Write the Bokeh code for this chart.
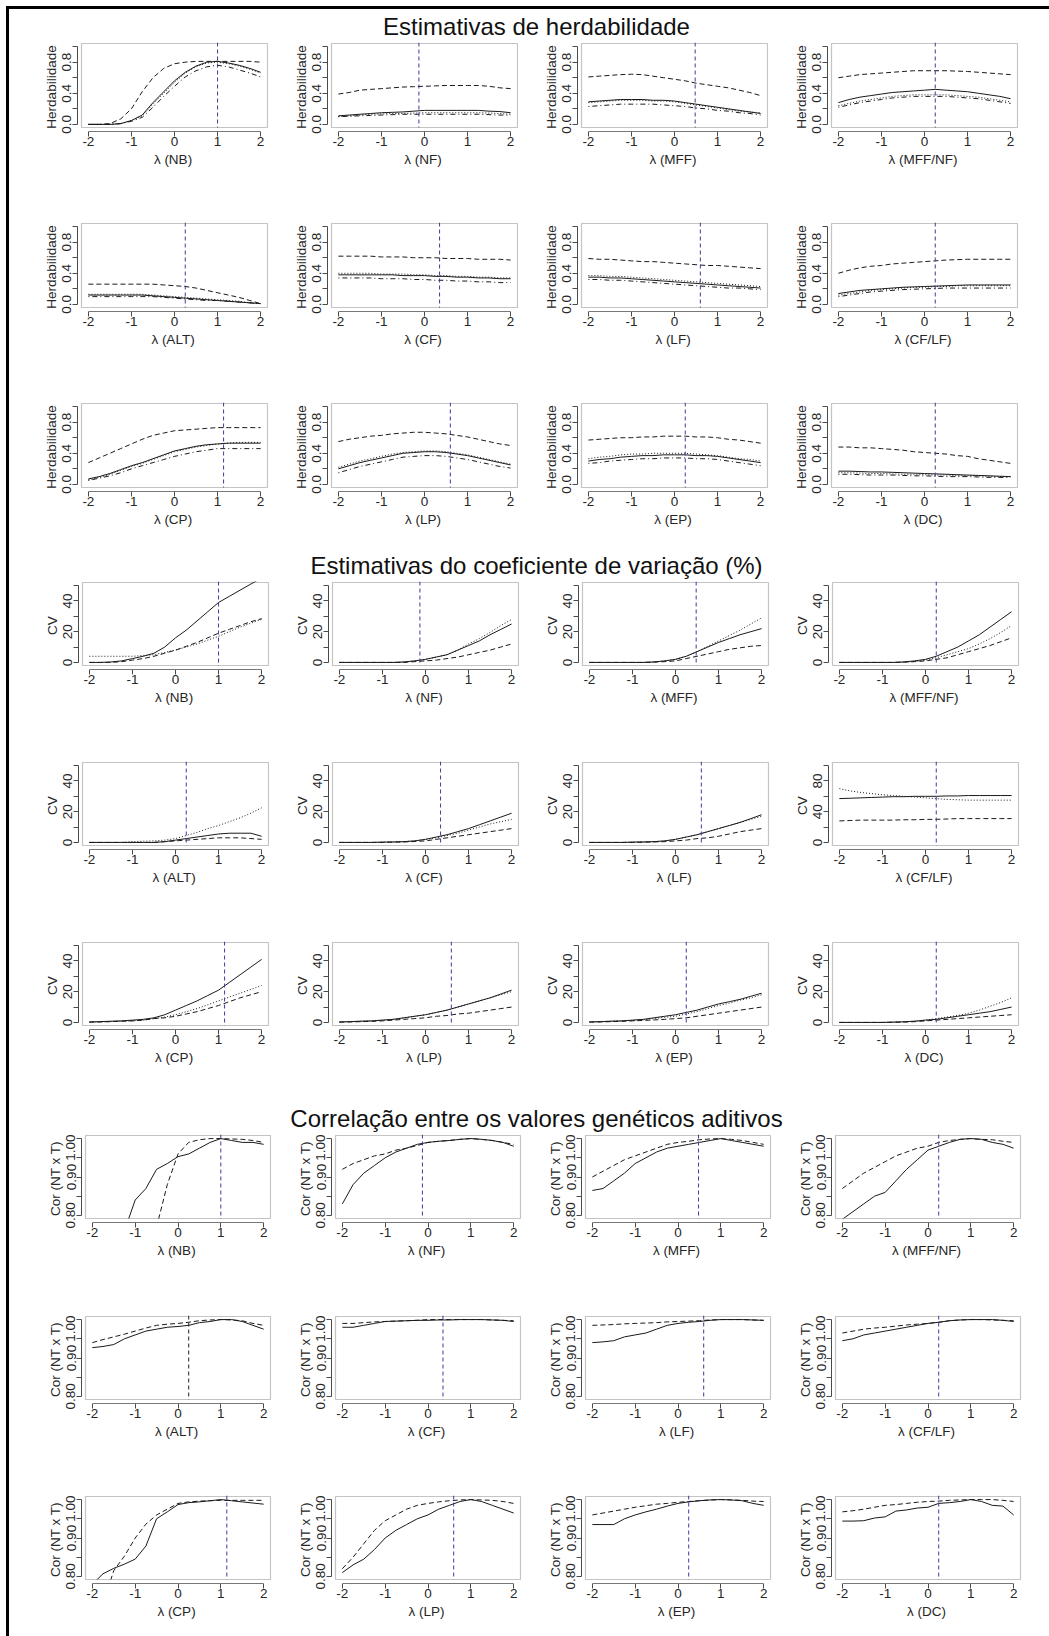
import numpy as np
from bokeh.plotting import figure
from bokeh.models import Range1d, FixedTicker, BoxAnnotation, Span, Spacer, Div
from bokeh.layouts import row, column
from bokeh.embed import file_html
from bokeh.resources import INLINE
from bokeh.core.properties import value

nan = float("nan")

# ---------------- data ----------------
LAM = [-2.0, -1.75, -1.5, -1.25, -1.0, -0.75, -0.5, -0.25, 0.0, 0.25, 0.5, 0.75, 1.0, 1.25, 1.5, 1.75, 2.0]
X_TICKS = [-2, -1, 0, 1, 2]
X_LABELS = ["-2", "-1", "0", "1", "2"]
TRAITS = ["NB", "NF", "MFF", "MFF/NF", "ALT", "CF", "LF", "CF/LF", "CP", "LP", "EP", "DC"]
LAMBDA_OPT = {"NB": 1.0, "NF": -0.13, "MFF": 0.48, "MFF/NF": 0.25, "ALT": 0.25, "CF": 0.35,
              "LF": 0.6, "CF/LF": 0.25, "CP": 1.14, "LP": 0.6, "EP": 0.25, "DC": 0.25}

SECTION_TITLES = ["Estimativas de herdabilidade",
                  "Estimativas do coeficiente de variação (%)",
                  "Correlação entre os valores genéticos aditivos"]

# Heritability: solid, dashed, dotted, dot-dash
HER_SOLID = {
    "NB": [0, 0, 0, 0.01, 0.05, 0.12, 0.28, 0.42, 0.56, 0.67, 0.75, 0.80, 0.81, 0.79, 0.76, 0.72, 0.67],
    "NF": [0.11, 0.12, 0.13, 0.14, 0.15, 0.155, 0.16, 0.17, 0.18, 0.18, 0.18, 0.18, 0.18, 0.18, 0.17, 0.165, 0.15],
    "MFF": [0.29, 0.30, 0.31, 0.32, 0.32, 0.32, 0.31, 0.31, 0.30, 0.28, 0.26, 0.24, 0.22, 0.20, 0.18, 0.16, 0.14],
    "MFF/NF": [0.28, 0.32, 0.35, 0.37, 0.39, 0.41, 0.42, 0.43, 0.44, 0.45, 0.44, 0.43, 0.42, 0.40, 0.38, 0.36, 0.33],
    "ALT": [0.12, 0.12, 0.12, 0.12, 0.12, 0.12, 0.11, 0.10, 0.09, 0.08, 0.07, 0.06, 0.05, 0.04, 0.03, 0.02, 0.01],
    "CF": [0.38, 0.38, 0.38, 0.38, 0.38, 0.38, 0.37, 0.37, 0.37, 0.36, 0.36, 0.35, 0.35, 0.34, 0.34, 0.33, 0.33],
    "LF": [0.35, 0.35, 0.34, 0.34, 0.33, 0.32, 0.31, 0.30, 0.29, 0.28, 0.27, 0.26, 0.25, 0.24, 0.23, 0.22, 0.21],
    "CF/LF": [0.14, 0.16, 0.18, 0.19, 0.20, 0.21, 0.22, 0.225, 0.23, 0.235, 0.24, 0.245, 0.25, 0.25, 0.25, 0.25, 0.25],
    "CP": [0.07, 0.10, 0.14, 0.19, 0.24, 0.28, 0.33, 0.38, 0.43, 0.46, 0.49, 0.51, 0.52, 0.53, 0.53, 0.53, 0.53],
    "LP": [0.20, 0.24, 0.28, 0.31, 0.34, 0.37, 0.40, 0.41, 0.42, 0.42, 0.41, 0.39, 0.37, 0.34, 0.31, 0.28, 0.25],
    "EP": [0.30, 0.32, 0.33, 0.35, 0.36, 0.37, 0.37, 0.38, 0.38, 0.38, 0.37, 0.37, 0.36, 0.34, 0.32, 0.30, 0.28],
    "DC": [0.17, 0.17, 0.165, 0.16, 0.16, 0.155, 0.15, 0.145, 0.14, 0.135, 0.13, 0.125, 0.12, 0.115, 0.11, 0.105, 0.10],
}
HER_DASHED = {
    "NB": [0, 0, 0.01, 0.07, 0.20, 0.42, 0.60, 0.72, 0.78, 0.80, 0.81, 0.81, 0.81, 0.81, 0.81, 0.81, 0.80],
    "NF": [0.39, 0.41, 0.44, 0.45, 0.46, 0.47, 0.48, 0.485, 0.49, 0.495, 0.50, 0.50, 0.50, 0.50, 0.49, 0.47, 0.46],
    "MFF": [0.61, 0.62, 0.63, 0.64, 0.645, 0.64, 0.62, 0.60, 0.58, 0.56, 0.53, 0.51, 0.49, 0.47, 0.44, 0.41, 0.37],
    "MFF/NF": [0.60, 0.62, 0.64, 0.65, 0.66, 0.67, 0.68, 0.69, 0.69, 0.69, 0.69, 0.685, 0.68, 0.67, 0.66, 0.65, 0.64],
    "ALT": [0.26, 0.26, 0.26, 0.26, 0.26, 0.26, 0.26, 0.25, 0.24, 0.23, 0.21, 0.18, 0.15, 0.12, 0.09, 0.05, 0.01],
    "CF": [0.62, 0.62, 0.62, 0.62, 0.61, 0.61, 0.61, 0.60, 0.60, 0.60, 0.59, 0.59, 0.59, 0.58, 0.58, 0.58, 0.57],
    "LF": [0.59, 0.58, 0.58, 0.57, 0.56, 0.55, 0.55, 0.54, 0.53, 0.52, 0.51, 0.50, 0.50, 0.49, 0.48, 0.47, 0.46],
    "CF/LF": [0.40, 0.44, 0.47, 0.49, 0.50, 0.52, 0.53, 0.54, 0.55, 0.56, 0.57, 0.575, 0.58, 0.58, 0.58, 0.58, 0.58],
    "CP": [0.28, 0.34, 0.40, 0.46, 0.52, 0.58, 0.63, 0.66, 0.69, 0.70, 0.71, 0.72, 0.73, 0.73, 0.73, 0.73, 0.73],
    "LP": [0.55, 0.58, 0.60, 0.62, 0.63, 0.65, 0.66, 0.67, 0.67, 0.66, 0.65, 0.63, 0.61, 0.58, 0.55, 0.52, 0.50],
    "EP": [0.57, 0.58, 0.59, 0.60, 0.60, 0.61, 0.61, 0.62, 0.62, 0.62, 0.61, 0.61, 0.60, 0.58, 0.57, 0.55, 0.53],
    "DC": [0.48, 0.48, 0.47, 0.47, 0.46, 0.45, 0.44, 0.42, 0.41, 0.40, 0.39, 0.37, 0.36, 0.33, 0.31, 0.29, 0.27],
}
HER_DOTTED = {
    "NB": [0, 0, 0, 0.01, 0.05, 0.11, 0.26, 0.40, 0.54, 0.66, 0.74, 0.79, 0.80, 0.78, 0.75, 0.71, 0.66],
    "NF": [0.10, 0.11, 0.12, 0.13, 0.135, 0.14, 0.14, 0.145, 0.15, 0.15, 0.15, 0.15, 0.15, 0.15, 0.145, 0.14, 0.13],
    "MFF": [0.28, 0.29, 0.30, 0.31, 0.31, 0.31, 0.30, 0.30, 0.29, 0.27, 0.25, 0.23, 0.21, 0.19, 0.17, 0.16, 0.15],
    "MFF/NF": [0.24, 0.27, 0.30, 0.32, 0.34, 0.36, 0.37, 0.38, 0.38, 0.38, 0.38, 0.37, 0.36, 0.35, 0.33, 0.31, 0.29],
    "ALT": [0.13, 0.13, 0.13, 0.13, 0.13, 0.13, 0.12, 0.11, 0.10, 0.09, 0.08, 0.07, 0.06, 0.05, 0.04, 0.02, 0.01],
    "CF": [0.40, 0.40, 0.40, 0.40, 0.39, 0.39, 0.39, 0.38, 0.38, 0.37, 0.37, 0.36, 0.36, 0.35, 0.35, 0.34, 0.34],
    "LF": [0.37, 0.37, 0.36, 0.36, 0.35, 0.34, 0.33, 0.32, 0.31, 0.30, 0.29, 0.28, 0.27, 0.26, 0.25, 0.24, 0.23],
    "CF/LF": [0.12, 0.14, 0.16, 0.18, 0.19, 0.20, 0.21, 0.22, 0.22, 0.23, 0.23, 0.24, 0.24, 0.24, 0.24, 0.24, 0.24],
    "CP": [0.06, 0.09, 0.13, 0.18, 0.23, 0.27, 0.32, 0.37, 0.42, 0.45, 0.48, 0.50, 0.52, 0.53, 0.54, 0.54, 0.54],
    "LP": [0.22, 0.26, 0.30, 0.33, 0.36, 0.39, 0.41, 0.42, 0.43, 0.43, 0.42, 0.40, 0.38, 0.35, 0.32, 0.29, 0.26],
    "EP": [0.33, 0.35, 0.36, 0.38, 0.39, 0.39, 0.40, 0.40, 0.40, 0.40, 0.39, 0.38, 0.37, 0.35, 0.33, 0.32, 0.30],
    "DC": [0.15, 0.15, 0.145, 0.14, 0.14, 0.135, 0.13, 0.13, 0.125, 0.12, 0.12, 0.115, 0.11, 0.11, 0.105, 0.10, 0.10],
}
HER_DOTDASH = {
    "NB": [0, 0, 0, 0.01, 0.04, 0.09, 0.22, 0.36, 0.49, 0.61, 0.69, 0.74, 0.76, 0.74, 0.70, 0.66, 0.61],
    "NF": [0.10, 0.105, 0.11, 0.115, 0.12, 0.125, 0.13, 0.13, 0.13, 0.13, 0.13, 0.13, 0.13, 0.13, 0.125, 0.12, 0.12],
    "MFF": [0.23, 0.24, 0.25, 0.26, 0.26, 0.26, 0.26, 0.25, 0.24, 0.23, 0.21, 0.20, 0.18, 0.17, 0.15, 0.14, 0.12],
    "MFF/NF": [0.22, 0.25, 0.28, 0.30, 0.32, 0.34, 0.35, 0.36, 0.36, 0.36, 0.36, 0.35, 0.34, 0.33, 0.31, 0.29, 0.27],
    "ALT": [0.10, 0.10, 0.10, 0.10, 0.10, 0.10, 0.10, 0.09, 0.08, 0.07, 0.06, 0.05, 0.05, 0.04, 0.03, 0.02, 0.01],
    "CF": [0.34, 0.34, 0.34, 0.34, 0.33, 0.33, 0.33, 0.32, 0.32, 0.31, 0.31, 0.30, 0.30, 0.29, 0.29, 0.28, 0.28],
    "LF": [0.32, 0.32, 0.31, 0.31, 0.30, 0.29, 0.28, 0.27, 0.26, 0.25, 0.24, 0.23, 0.22, 0.21, 0.21, 0.20, 0.19],
    "CF/LF": [0.10, 0.12, 0.14, 0.16, 0.17, 0.18, 0.19, 0.195, 0.20, 0.205, 0.21, 0.21, 0.21, 0.21, 0.21, 0.21, 0.21],
    "CP": [0.05, 0.08, 0.11, 0.15, 0.20, 0.24, 0.28, 0.32, 0.36, 0.39, 0.42, 0.44, 0.46, 0.46, 0.46, 0.46, 0.46],
    "LP": [0.15, 0.19, 0.23, 0.26, 0.29, 0.32, 0.35, 0.36, 0.37, 0.37, 0.36, 0.34, 0.32, 0.29, 0.26, 0.23, 0.21],
    "EP": [0.27, 0.28, 0.30, 0.31, 0.32, 0.33, 0.33, 0.34, 0.34, 0.34, 0.33, 0.33, 0.32, 0.30, 0.28, 0.26, 0.24],
    "DC": [0.13, 0.13, 0.125, 0.12, 0.12, 0.12, 0.115, 0.11, 0.11, 0.105, 0.10, 0.10, 0.10, 0.095, 0.09, 0.09, 0.09],
}

# Coefficient of variation (%): solid, dashed, dotted
CV_SOLID = {
    "NB": [0, 0, 0.3, 1, 2.5, 4, 6, 10, 16, 21, 27, 33, 39, 43, 47, 51, 55],
    "NF": [0, 0, 0, 0, 0, 0, 0.3, 1, 2, 3.5, 5, 8, 11, 14, 18, 21.5, 25],
    "MFF": [0, 0, 0, 0, 0, 0, 0.3, 1, 2, 4, 7, 10, 13, 15.5, 18, 20, 22],
    "MFF/NF": [0, 0, 0, 0, 0, 0, 0.3, 1, 2, 4, 7, 10, 14, 18, 23, 28, 33],
    "ALT": [0, 0, 0, 0, 0, 0, 0, 0.5, 1.5, 2.5, 3.5, 4.5, 5.5, 6, 6, 6, 4],
    "CF": [0, 0, 0, 0, 0.2, 0.3, 0.5, 1, 2, 3.5, 5, 7, 9, 11.5, 14, 16.5, 19],
    "LF": [0, 0, 0, 0, 0.2, 0.3, 0.5, 1, 2, 3.5, 5, 7, 9, 11, 13, 15.5, 18],
    "CF/LF": [57, 57.5, 58, 58.5, 59, 59.5, 59.5, 60, 60, 60, 60.5, 60.5, 61, 61, 61, 61, 61],
    "CP": [0.3, 0.5, 0.8, 1, 1.5, 2, 3, 5, 8, 11, 14, 17.5, 21, 26, 31, 36, 41],
    "LP": [0.3, 0.5, 0.8, 1, 1.5, 2, 3, 4, 5, 6.5, 8, 10, 12, 14, 16, 18.5, 21],
    "EP": [0.3, 0.5, 0.8, 1, 1.5, 2, 3, 4, 5, 6.5, 8, 10, 12, 13.5, 15, 17, 19],
    "DC": [0, 0, 0, 0, 0, 0.2, 0.4, 0.8, 1.5, 2, 3, 4, 5, 6, 7, 8.5, 10],
}
CV_DASHED = {
    "NB": [0, 0, 0, 0.5, 1.5, 2.5, 4, 6, 8, 10.5, 13, 16, 19, 21.5, 24, 26.5, 28.5],
    "NF": [0, 0, 0, 0, 0, 0, 0, 0.5, 1, 1.5, 2.5, 3.5, 5, 6.5, 8, 10, 12],
    "MFF": [0, 0, 0, 0, 0, 0, 0.2, 0.5, 1, 2.5, 4, 5.5, 7, 8.5, 9.5, 10.5, 11],
    "MFF/NF": [0, 0, 0, 0, 0, 0, 0.2, 0.5, 1, 2, 3, 5, 7, 9, 11, 13.5, 16],
    "ALT": [0, 0, 0, 0, 0, 0, 0, 0.5, 1, 1.5, 2, 2.5, 3, 3, 3, 2.5, 2],
    "CF": [0, 0, 0, 0, 0, 0.2, 0.3, 0.6, 1, 2, 3, 4, 5, 6, 7, 8, 9],
    "LF": [0, 0, 0, 0, 0, 0.2, 0.3, 0.5, 1, 1.5, 2.5, 3, 4, 5.5, 7, 8, 9],
    "CF/LF": [28, 28.5, 29, 29, 29, 29, 29.5, 29.5, 30, 30, 30.5, 31, 31, 31, 31, 31, 31],
    "CP": [0.2, 0.3, 0.5, 0.8, 1, 1.5, 2.5, 3, 4, 5.5, 7, 9, 11, 13.5, 16, 18, 20],
    "LP": [0.2, 0.3, 0.5, 0.7, 1, 1.5, 2, 2.5, 3, 4, 4.5, 5.5, 6, 7, 8, 9, 10],
    "EP": [0.2, 0.3, 0.5, 0.7, 1, 1.3, 1.6, 2, 2.5, 3, 4, 5, 6, 7, 8, 9, 10],
    "DC": [0, 0, 0, 0, 0, 0.1, 0.2, 0.5, 1, 1.5, 2, 2.5, 3, 3.5, 4, 4.5, 5],
}
CV_DOTTED = {
    "NB": [4, 4, 4, 4, 4, 4.5, 5, 6.5, 8, 10, 12, 14.5, 17, 20, 23, 25.5, 28],
    "NF": [0, 0, 0, 0, 0, 0, 0.3, 1, 2, 3.5, 5, 8, 12, 15.5, 19.5, 24, 28],
    "MFF": [0, 0, 0, 0, 0, 0, 0.3, 1, 2, 4, 7, 10.5, 14, 17.5, 21, 25, 29],
    "MFF/NF": [0, 0, 0, 0, 0, 0, 0.2, 0.6, 1.5, 3, 5, 7, 9, 12, 15.5, 19.5, 24],
    "ALT": [0, 0, 0, 0, 0.5, 0.8, 1, 1.5, 2.5, 4.5, 6.5, 9, 11, 13.5, 16, 19, 22.5],
    "CF": [0, 0, 0, 0, 0.2, 0.3, 0.5, 1, 2, 3, 4.5, 6, 8, 10, 12, 13.5, 15],
    "LF": [0, 0, 0, 0, 0.2, 0.3, 0.5, 1, 2, 3.5, 5, 7, 9, 11, 13, 15, 17],
    "CF/LF": [70, 67, 65, 63.5, 62, 61, 60, 59, 58, 57, 56, 55.5, 55, 55, 55, 55, 55],
    "CP": [0.2, 0.4, 0.6, 0.8, 1, 1.5, 2.5, 3.5, 5, 7, 9, 11.5, 14, 16.5, 19, 21.5, 24],
    "LP": [0.3, 0.5, 0.8, 1, 1.5, 2, 3, 4, 5, 6.5, 8, 10, 12, 14, 16, 18, 20],
    "EP": [0.3, 0.5, 0.8, 1, 1.3, 1.7, 2.5, 3.3, 4, 5.5, 7, 9, 11, 12.5, 14.5, 16, 18],
    "DC": [0, 0, 0, 0, 0, 0.2, 0.4, 0.8, 1.5, 2.5, 3.5, 4.5, 6, 8, 10.5, 13, 16],
}

# Correlation of additive genetic values (NT x T): solid, dashed
COR_SOLID = {
    "NB": [nan, nan, nan, 0.76, 0.84, 0.87, 0.92, 0.935, 0.953, 0.96, 0.975, 0.99, 1.0, 0.995, 0.99, 0.99, 0.985],
    "NF": [0.83, 0.88, 0.91, 0.93, 0.95, 0.965, 0.975, 0.985, 0.99, 0.993, 0.995, 0.998, 1.0, 0.998, 0.995, 0.99, 0.98],
    "MFF": [0.865, 0.87, 0.89, 0.91, 0.935, 0.95, 0.965, 0.975, 0.98, 0.985, 0.99, 0.995, 1.0, 0.995, 0.99, 0.985, 0.98],
    "MFF/NF": [0.79, 0.81, 0.83, 0.85, 0.86, 0.89, 0.92, 0.945, 0.97, 0.98, 0.99, 0.998, 1.0, 0.998, 0.99, 0.985, 0.975],
    "ALT": [0.927, 0.93, 0.935, 0.95, 0.96, 0.97, 0.975, 0.98, 0.982, 0.985, 0.992, 0.995, 1.0, 1.0, 0.995, 0.985, 0.975],
    "CF": [0.98, 0.98, 0.985, 0.99, 0.995, 0.996, 0.997, 0.998, 0.998, 0.999, 0.999, 1.0, 1.0, 1.0, 0.999, 0.998, 0.995],
    "LF": [0.94, 0.942, 0.945, 0.955, 0.96, 0.965, 0.975, 0.985, 0.99, 0.993, 0.995, 0.998, 1.0, 1.0, 1.0, 0.999, 0.998],
    "CF/LF": [0.945, 0.95, 0.96, 0.965, 0.97, 0.975, 0.98, 0.985, 0.99, 0.993, 0.997, 0.999, 1.0, 1.0, 1.0, 0.998, 0.995],
    "CP": [0.78, 0.807, 0.821, 0.832, 0.845, 0.879, 0.95, 0.968, 0.987, 0.992, 0.994, 0.997, 1.0, 0.997, 0.994, 0.991, 0.988],
    "LP": [0.81, 0.83, 0.845, 0.87, 0.9, 0.92, 0.935, 0.95, 0.96, 0.975, 0.985, 0.995, 1.0, 0.995, 0.985, 0.975, 0.965],
    "EP": [0.935, 0.935, 0.935, 0.95, 0.96, 0.968, 0.975, 0.983, 0.99, 0.994, 0.997, 0.999, 1.0, 0.999, 0.997, 0.99, 0.985],
    "DC": [0.944, 0.944, 0.945, 0.952, 0.955, 0.97, 0.973, 0.978, 0.98, 0.99, 0.992, 0.995, 1.0, 0.995, 0.985, 0.983, 0.96],
}
COR_DASHED = {
    "NB": [nan, nan, nan, nan, nan, nan, 0.77, 0.88, 0.96, 0.99, 0.997, 1.0, 1.0, 0.999, 0.998, 0.995, 0.99],
    "NF": [0.92, 0.935, 0.945, 0.955, 0.96, 0.97, 0.975, 0.982, 0.99, 0.993, 0.995, 0.998, 1.0, 0.998, 0.995, 0.99, 0.985],
    "MFF": [0.90, 0.915, 0.93, 0.945, 0.955, 0.965, 0.975, 0.985, 0.99, 0.993, 0.997, 0.999, 1.0, 0.998, 0.995, 0.99, 0.985],
    "MFF/NF": [0.87, 0.89, 0.91, 0.925, 0.94, 0.955, 0.965, 0.975, 0.98, 0.99, 0.995, 0.998, 1.0, 0.998, 0.997, 0.993, 0.99],
    "ALT": [0.94, 0.948, 0.955, 0.962, 0.97, 0.978, 0.985, 0.988, 0.99, 0.993, 0.997, 0.999, 1.0, 0.999, 0.997, 0.99, 0.985],
    "CF": [0.99, 0.99, 0.992, 0.994, 0.995, 0.996, 0.997, 0.998, 1.0, 1.0, 1.0, 1.0, 1.0, 1.0, 0.999, 0.998, 0.997],
    "LF": [0.985, 0.986, 0.987, 0.989, 0.99, 0.991, 0.992, 0.994, 0.995, 0.996, 0.997, 0.999, 1.0, 1.0, 1.0, 0.999, 0.998],
    "CF/LF": [0.965, 0.97, 0.975, 0.978, 0.98, 0.983, 0.986, 0.988, 0.99, 0.993, 0.997, 0.999, 1.0, 1.0, 0.999, 0.998, 0.997],
    "CP": [nan, 0.73, 0.815, 0.853, 0.9, 0.936, 0.96, 0.975, 0.99, 0.994, 0.996, 0.997, 0.998, 0.998, 0.998, 0.998, 0.998],
    "LP": [0.82, 0.85, 0.885, 0.92, 0.945, 0.96, 0.975, 0.985, 0.99, 0.994, 0.997, 0.999, 1.0, 0.999, 0.998, 0.995, 0.99],
    "EP": [0.96, 0.965, 0.97, 0.975, 0.98, 0.984, 0.988, 0.99, 0.993, 0.995, 0.997, 0.999, 1.0, 0.999, 0.998, 0.996, 0.995],
    "DC": [0.968, 0.971, 0.975, 0.98, 0.985, 0.987, 0.99, 0.993, 0.995, 0.996, 0.998, 0.999, 1.0, 1.0, 1.0, 0.998, 0.995],
}

HER_YTICKS = [0.0, 0.2, 0.4, 0.6, 0.8, 1.0]
HER_YLABELS = ["0.0", "", "0.4", "", "0.8", ""]
CV_YTICKS = [0, 10, 20, 30, 40, 50]
CV_YLABELS = ["0", "", "20", "", "40", ""]
CV_WIDE_YTICKS = [0, 20, 40, 60, 80, 100]
CV_WIDE_YLABELS = ["0", "", "40", "", "80", ""]
COR_YTICKS = [0.80, 0.85, 0.90, 0.95, 1.00]
COR_YLABELS = ["0.80", "", "0.90", "", "1.00"]

# ---------------- styling ----------------
FONT = "Liberation Sans"
TXT = "#262626"
AXC = "#4a4a4a"
LINEC = "#1a1a1a"
VBLUE = "#3c3c9c"
DASHES = {"solid": "solid", "dashed": "5 3", "dotted": "1 2", "dotdash": "1 3 5 3"}

FIG_W = 250
LB = 56     # left border (axis area)
PAD_L, PAD_B, PAD_R, PAD_T = 4, 4, 1, 1


def panel(trait, series, yticks, ylabels, ylab, total_h, bw, bh, vcolor=VBLUE):
    xlo, xhi = min(LAM), max(LAM)
    xe = 0.04 * (xhi - xlo)
    xl, xr = xlo - xe, xhi + xe
    ylo, yhi = yticks[0], yticks[-1]
    ye = 0.04 * (yhi - ylo)
    yb, yt = ylo - ye, yhi + ye
    ux = (xr - xl) / bw
    uy = (yt - yb) / bh
    fw = bw + PAD_L + PAD_R
    fh = bh + PAD_B + PAD_T
    p = figure(frame_width=fw, frame_height=fh, title=None,
               x_range=Range1d(xl - PAD_L * ux, xr + PAD_R * ux),
               y_range=Range1d(yb - PAD_B * uy, yt + PAD_T * uy),
               min_border_left=LB, min_border_right=FIG_W - LB - fw,
               min_border_top=0, min_border_bottom=total_h - fh,
               toolbar_location=None, output_backend="svg",
               background_fill_color="white", border_fill_color="white",
               outline_line_color=None)
    p.xgrid.visible = False
    p.ygrid.visible = False
    for name, vals in series:
        p.line(LAM, np.array(vals, dtype=float), line_color=LINEC, line_width=1,
               line_dash=DASHES[name])
    p.add_layout(Span(location=LAMBDA_OPT[trait], dimension="height",
                      line_color=vcolor, line_width=1, line_dash="4 3"))
    # mask strip below the plot box (R clips at the box)
    p.add_layout(BoxAnnotation(top=yb, fill_color="white", fill_alpha=1.0, line_color=None))
    p.add_layout(BoxAnnotation(left=xl, right=xr, bottom=yb, top=yt, fill_alpha=0.0,
                               line_color="#3a3a3a", line_width=1.2))
    xa = p.xaxis[0]
    ya = p.yaxis[0]
    xa.ticker = FixedTicker(ticks=X_TICKS)
    xa.bounds = (X_TICKS[0], X_TICKS[-1])
    xa.major_label_overrides = {t: l for t, l in zip(X_TICKS, X_LABELS)}
    xa.axis_label = "\u03bb (" + trait + ")"
    ya.ticker = FixedTicker(ticks=yticks)
    ya.bounds = (yticks[0], yticks[-1])
    ya.major_label_overrides = {t: l for t, l in zip(yticks, ylabels)}
    ya.major_label_orientation = "parallel"
    ya.axis_label = ylab
    for ax in (xa, ya):
        ax.axis_line_color = AXC
        ax.major_tick_line_color = AXC
        ax.minor_tick_line_color = None
        ax.major_tick_out = 5
        ax.major_tick_in = 0
        ax.major_label_text_font = FONT
        ax.major_label_text_font_size = "13.5px"
        ax.major_label_text_color = TXT
        ax.axis_label_text_font = FONT
        ax.axis_label_text_font_size = "13.5px"
        ax.axis_label_text_font_style = "normal"
        ax.axis_label_text_color = TXT
    xa.major_label_standoff = 0
    xa.axis_label_standoff = 3
    ya.major_label_standoff = 1
    ya.axis_label_standoff = 1
    return p


CONTENT_W = 1040
TITLE_H = 33


def title_fig(text, h=TITLE_H, center_from_top=17, cx=527):
    p = figure(frame_width=CONTENT_W, frame_height=h, title=None,
               x_range=Range1d(0, CONTENT_W), y_range=Range1d(0, h),
               min_border=0, toolbar_location=None, output_backend="svg",
               x_axis_type=None, y_axis_type=None, outline_line_color=None,
               background_fill_color="white", border_fill_color="white")
    p.xgrid.visible = False
    p.ygrid.visible = False
    p.text(x=[cx], y=[h - center_from_top], text=[text], text_font=value(FONT),
           text_font_size="24px", text_align="center", text_baseline="middle",
           text_color="#111111")
    return p


def grid_row(kind, traits, total_h, lead):
    figs = []
    for t in traits:
        if kind == "her":
            ser = [("solid", HER_SOLID[t]), ("dashed", HER_DASHED[t]),
                   ("dotted", HER_DOTTED[t]), ("dotdash", HER_DOTDASH[t])]
            f = panel(t, ser, HER_YTICKS, HER_YLABELS, "Herdabilidade", total_h, 186, 84)
        elif kind == "cv":
            ser = [("solid", CV_SOLID[t]), ("dashed", CV_DASHED[t]), ("dotted", CV_DOTTED[t])]
            if t == "CF/LF":
                f = panel(t, ser, CV_WIDE_YTICKS, CV_WIDE_YLABELS, "CV", total_h, 186, 83)
            else:
                f = panel(t, ser, CV_YTICKS, CV_YLABELS, "CV", total_h, 186, 83)
        else:
            ser = [("solid", COR_SOLID[t]), ("dashed", COR_DASHED[t])]
            vc = "#222222" if t == "ALT" else VBLUE
            f = panel(t, ser, COR_YTICKS, COR_YLABELS, "Cor (NT x T)", total_h, 185, 83, vc)
        figs.append(f)
    return row(Spacer(width=lead, height=total_h), *figs)


R1, R2, R3 = TRAITS[0:4], TRAITS[4:8], TRAITS[8:12]

content = column(
    title_fig(SECTION_TITLES[0]),
    grid_row("her", R1, 180, 12),
    grid_row("her", R2, 180, 12),
    grid_row("her", R3, 146, 12),
    title_fig(SECTION_TITLES[1]),
    grid_row("cv", R1, 180, 13),
    grid_row("cv", R2, 180, 13),
    grid_row("cv", R3, 160, 13),
    title_fig(SECTION_TITLES[2]),
    grid_row("cor", R1, 181, 16),
    grid_row("cor", R2, 180, 16),
    grid_row("cor", R3, 141, 16),
)

top_bar = Div(text="", width=1043, height=3, margin=0, styles={"background-color": "black"})
left_bar = Div(text="", width=3, height=1627, margin=0, styles={"background-color": "black"})

root = column(
    Spacer(width=10, height=6),
    row(Spacer(width=6, height=3), top_bar),
    row(Spacer(width=6, height=1627), left_bar, content),
)

open("out.html", "w").write(file_html(root, INLINE))
